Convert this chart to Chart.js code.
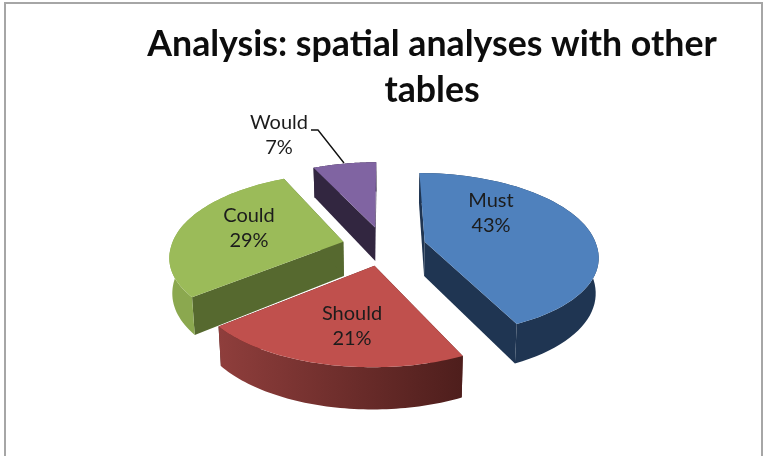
<!DOCTYPE html>
<html>
<head>
<meta charset="utf-8">
<title>Analysis: spatial analyses with other tables</title>
<script src="https://cdn.jsdelivr.net/npm/chart.js@4"></script>
<style>
  html, body { margin: 0; padding: 0; background: #fff; }
  #wrap { position: relative; width: 763px; height: 456px; overflow: hidden; }
  #frame { position: absolute; left: 4px; top: 2px; width: 755px; height: 460px; border: 2px solid #a6a6a6; }
  #myChart { position: absolute; left: 0; top: 0; }
</style>
</head>
<body>
<div id="wrap">
  <div id="frame"></div>
  <canvas id="myChart" width="763" height="456"></canvas>
</div>
<script>
const categories = ["Must", "Should", "Could", "Would"];
const shares = [43, 21, 29, 7];
const titleLines = ["Analysis: spatial analyses with other", "tables"];

const topColors = ['#4f81bd', '#c0504d', '#9bbb59', '#8064a2'];
const wallColors = [['#1f3552', '#1f3552'], ['#8f3e3c', '#4e1e1c'], ['#8ba84f', '#8ba84f'], ['#322640', '#322640']];
const edgeColors = ['#1f3552', '#4e1e1c', '#56692f', '#322640'];
const drawOrder = [3, 2, 0, 1];

// where the text sits, not the slices
const labelCenters = [[491, 213], [352, 326], [249, 228], [279, 135]];
const leader = [[311, 130], [318, 130], [344, 163]];

// camera for the tilted pie
const view = { cx: 384, cy: 246, persp: 0.1476, squash: 80, depth: 34.5, shrink: 0.014, frontSpread: 0.12 };

function project(u, v, R) {
    const w = 1 / (1 - view.persp * v);
    // the near half fans out a bit wider than plain perspective
    const wx = w > 1 ? Math.pow(w, 1 + view.frontSpread) : w;
    return { x: view.cx + R * u * wx, y: view.cy + view.squash * v * w, w: w };
}

function dropDown(p) {
    return { x: p.x + (view.cx - p.x) * view.shrink, y: p.y + view.depth * p.w };
}

function sliceOutline(el) {
    const R = el.outerRadius;
    const mid = (el.startAngle + el.endAngle) / 2;
    const off = el.options.offset / R;
    const ou = Math.cos(mid) * off, ov = Math.sin(mid) * off;
    const steps = 60;
    const arc = [];
    for (let i = 0; i <= steps; i++) {
        const a = el.startAngle + (el.endAngle - el.startAngle) * i / steps;
        arc.push(project(ou + Math.cos(a), ov + Math.sin(a), R));
    }
    return { apex: project(ou, ov, R), arc: arc };
}

// fills the band between a run of top points and the same run dropped by the depth
function wall(ctx, points, color) {
    ctx.fillStyle = color;
    ctx.beginPath();
    points.forEach(function(p, i) {
        if (i === 0) ctx.moveTo(p.x, p.y);
        else ctx.lineTo(p.x, p.y);
    });
    points.slice().reverse().forEach(function(p) {
        const d = dropDown(p);
        ctx.lineTo(d.x, d.y);
    });
    ctx.closePath();
    ctx.fill();
}

// pie whose slices are drawn through the camera above
class Pie3dController extends Chart.PieController {
    draw() {
        const ctx = this.chart.ctx;
        const arcs = this.getMeta().data;
        drawOrder.forEach(function(i) {
            const el = arcs[i];
            const shape = sliceOutline(el);
            const arc = shape.arc;

            wall(ctx, [shape.apex, arc[0]], edgeColors[i]);
            wall(ctx, [arc[arc.length - 1], shape.apex], edgeColors[i]);

            const xs = arc.map(function(p) { return p.x; });
            const grad = ctx.createLinearGradient(Math.min.apply(null, xs), 0, Math.max.apply(null, xs), 0);
            grad.addColorStop(0, wallColors[i][0]);
            grad.addColorStop(1, wallColors[i][1]);
            wall(ctx, arc, grad);

            ctx.fillStyle = el.options.backgroundColor;
            ctx.beginPath();
            ctx.moveTo(shape.apex.x, shape.apex.y);
            arc.forEach(function(p) { ctx.lineTo(p.x, p.y); });
            ctx.closePath();
            ctx.fill();
        });
    }
}
Pie3dController.id = 'pie3d';
Pie3dController.defaults = Chart.PieController.defaults;
Pie3dController.overrides = Chart.PieController.overrides;
Chart.register(Pie3dController);

const sliceLabels = {
    id: 'sliceLabels',
    afterDatasetsDraw: function(chart) {
        const ctx = chart.ctx;
        const total = shares.reduce(function(a, b) { return a + b; }, 0);
        ctx.save();
        ctx.font = '20px Lato';
        ctx.fillStyle = '#1c1c1c';
        ctx.textAlign = 'center';
        ctx.textBaseline = 'middle';
        categories.forEach(function(name, i) {
            const c = labelCenters[i];
            ctx.fillText(name, c[0], c[1] - 12.5);
            ctx.fillText(Math.round(shares[i] / total * 100) + '%', c[0], c[1] + 12.5);
        });
        ctx.strokeStyle = '#111';
        ctx.lineWidth = 1.4;
        ctx.beginPath();
        ctx.moveTo(leader[0][0], leader[0][1]);
        ctx.lineTo(leader[1][0], leader[1][1]);
        ctx.lineTo(leader[2][0], leader[2][1]);
        ctx.stroke();
        ctx.restore();
    }
};

const myChart = document.getElementById('myChart').getContext('2d');
const chart1 = new Chart(myChart, {
    type: 'pie3d',
    data: {
        labels: categories,
        datasets: [{
            data: shares,
            backgroundColor: topColors,
            borderWidth: 0,
            offset: 42
        }]
    },
    options: {
        responsive: false,
        animation: false,
        radius: 172,
        layout: { padding: { left: 101 } },
        plugins: {
            legend: { display: false },
            tooltip: { enabled: false },
            title: {
                display: true,
                text: titleLines,
                color: '#0d0d0d',
                font: { family: 'Lato', size: 35.7, weight: 'bold', lineHeight: 1.28 },
                padding: { top: 22, bottom: 0 }
            }
        }
    },
    plugins: [sliceLabels]
});
</script>
</body>
</html>
